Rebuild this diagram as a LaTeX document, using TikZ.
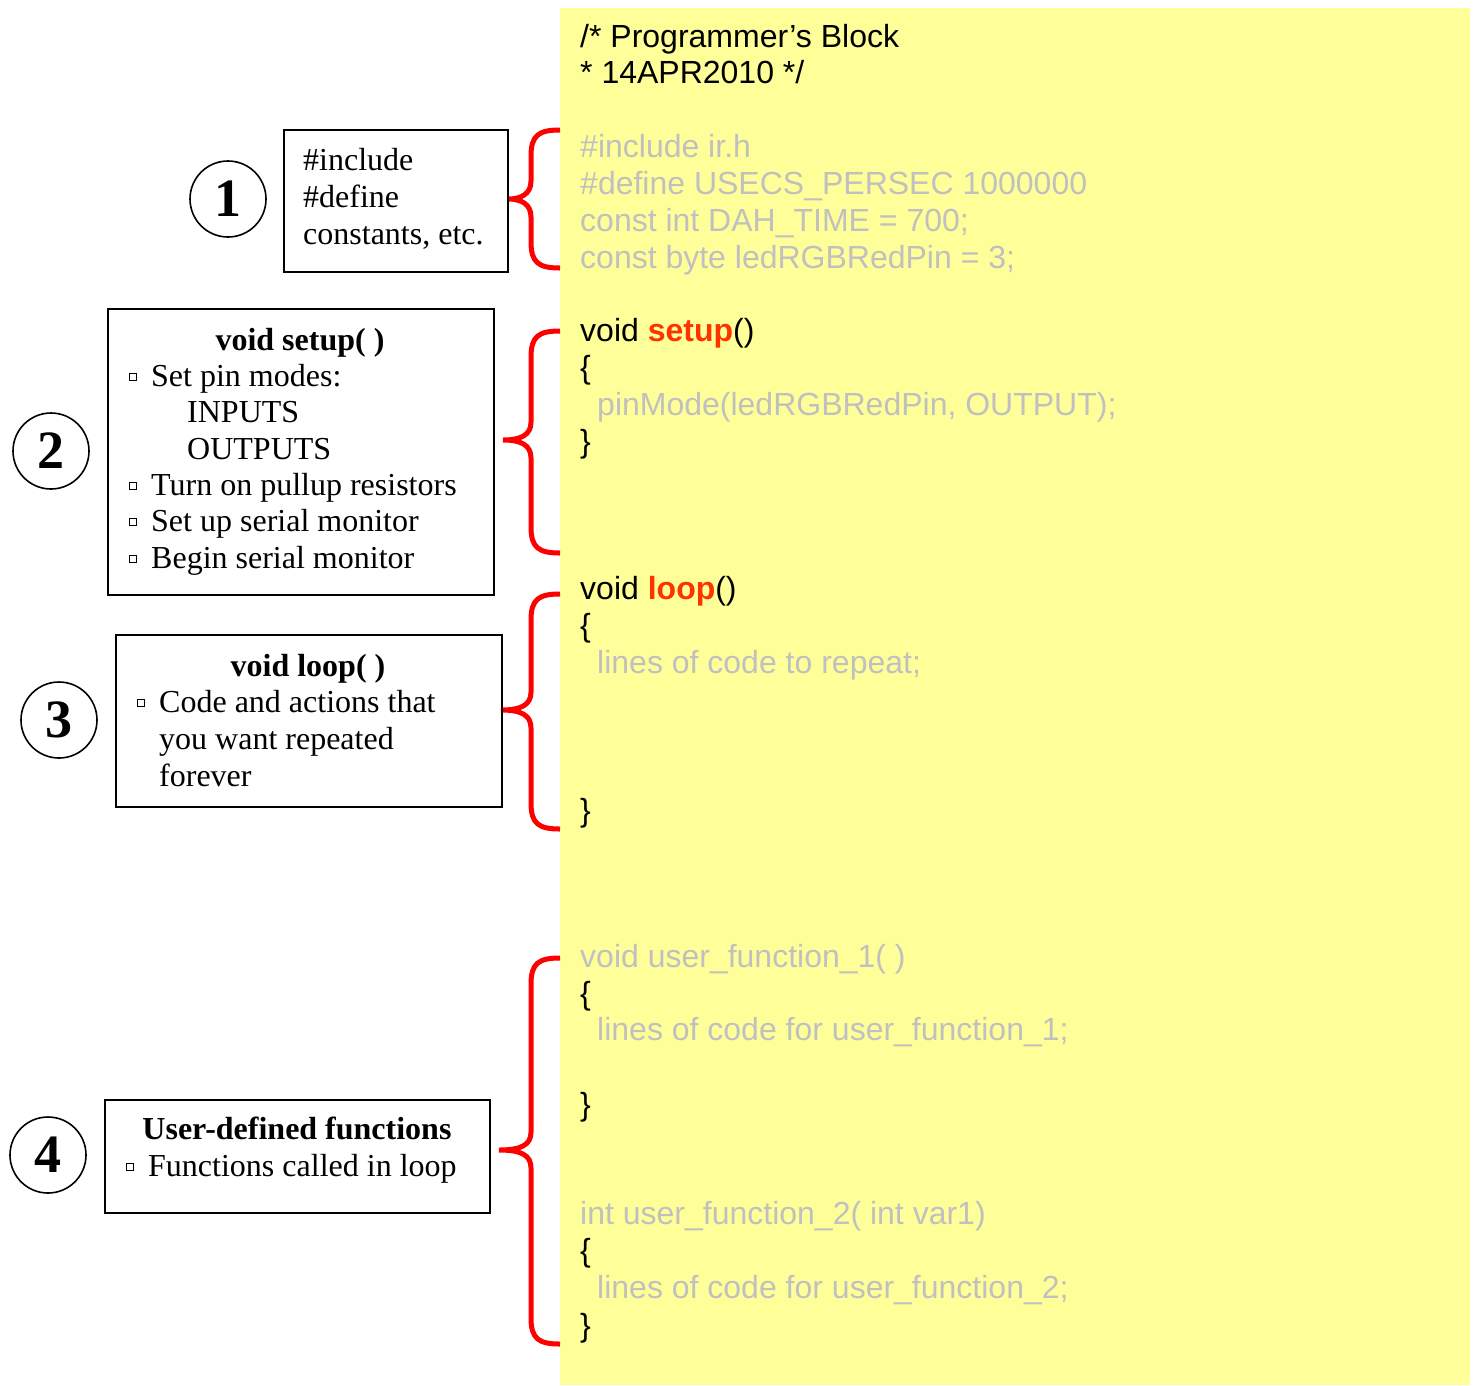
\documentclass[tikz,border=0pt]{standalone}
\usepackage{fontspec}
\setmainfont{Liberation Serif}
\newfontfamily\arialf{Liberation Sans}
\definecolor{panel}{RGB}{255,255,153}
\definecolor{codegray}{RGB}{192,192,192}
\definecolor{keyred}{RGB}{255,51,0}
\definecolor{bracered}{RGB}{255,0,0}
\newcommand\mybrace[4]{%
  \draw[brace] (560,#2) .. controls (539,#2) and (531,#2+5) .. (531,#2+26)
    -- (531,#3-18) .. controls (531,#3-5) and (521,#3) .. (#1,#3)
    .. controls (521,#3) and (531,#3+5) .. (531,#3+18)
    -- (531,#4-26) .. controls (531,#4-5) and (539,#4) .. (560,#4);}
\begin{document}
\begin{tikzpicture}[x=1pt,y=-1pt,
  box/.style={draw, line width=1.6pt, inner sep=0, anchor=north west},
  tx/.style={inner sep=0, anchor=base west, font=\fontsize{32}{37}\selectfont},
  ttl/.style={inner sep=0, anchor=base, font=\fontsize{32}{37}\selectfont\bfseries},
  code/.style={inner sep=0, anchor=base west, font=\arialf\fontsize{32}{37}\selectfont},
  dim/.style={code, text=codegray},
  bul/.style={draw, line width=1pt, minimum size=7pt, inner sep=0},
  num/.style={circle, draw, line width=1.6pt, minimum size=76pt, inner sep=0, font=\fontsize{54}{54}\selectfont\bfseries},
  brace/.style={draw=bracered, line width=5pt, line cap=butt}]
\useasboundingbox (0,0) rectangle (1474,1385);
\fill[panel] (560,8) rectangle (1470,1385);

% braces
\mybrace{508}{130}{199}{268}
\mybrace{503}{331}{440}{553}
\mybrace{501}{594}{710}{829}
\mybrace{499}{958}{1150}{1344}

% numbers
\node[num] (c1) at (228,199) {1};
\node[num] (c2) at (51,451) {2};
\node[num] (c3) at (59,720) {3};
\node[num] (c4) at (48,1155) {4};

% box 1
\node[box, minimum width=224pt, minimum height=142pt] (b1) at (283,129) {};
\node[tx] (b1l1) at (303,170) {\#include};
\node[tx] (b1l2) at (303,207) {\#define};
\node[tx] (b1l3) at (303,244) {constants, etc.};

% box 2
\node[box, minimum width=386pt, minimum height=286pt] (b2) at (107,308) {};
\node[ttl] (b2t) at (300,350) {void setup( )};
\node[bul] (b2q1) at (133,377) {};
\node[tx] (b2l1) at (151,386) {Set pin modes:};
\node[tx] (b2l2) at (187,422) {INPUTS};
\node[tx] (b2l3) at (187,459) {OUTPUTS};
\node[bul] (b2q4) at (133,486) {};
\node[tx] (b2l4) at (151,495) {Turn on pullup resistors};
\node[bul] (b2q5) at (133,522) {};
\node[tx] (b2l5) at (151,531) {Set up serial monitor};
\node[bul] (b2q6) at (133,559) {};
\node[tx] (b2l6) at (151,568) {Begin serial monitor};

% box 3
\node[box, minimum width=386pt, minimum height=172pt] (b3) at (115,634) {};
\node[ttl] (b3t) at (308,676) {void loop( )};
\node[bul] (b3q1) at (141,703) {};
\node[tx] (b3l1) at (159,712) {Code and actions that};
\node[tx] (b3l2) at (159,749) {you want repeated};
\node[tx] (b3l3) at (159,786) {forever};

% box 4
\node[box, minimum width=385pt, minimum height=113pt] (b4) at (104,1099) {};
\node[ttl] (b4t) at (297,1139) {User-defined functions};
\node[bul] (b4q1) at (130,1167) {};
\node[tx] (b4l1) at (148,1176) {Functions called in loop};

% code
\node[code] (k1) at (580,47) {/* Programmer’s Block};
\node[code] (k2) at (580,83) {* 14APR2010 */};
\node[dim] (k3) at (580,157) {\#include ir.h};
\node[dim] (k4) at (580,194) {\#define USECS\_PERSEC 1000000};
\node[dim] (k5) at (580,231) {const int DAH\_TIME = 700;};
\node[dim] (k6) at (580,268) {const byte ledRGBRedPin = 3;};

\node[code] (s1) at (580,341) {void \textcolor{keyred}{\bfseries setup}()};
\node[code] (s2) at (580,378) {\{};
\node[dim] (s3) at (597,415) {pinMode(ledRGBRedPin, OUTPUT);};
\node[code] (s4) at (580,452) {\}};

\node[code] (l1) at (580,599) {void \textcolor{keyred}{\bfseries loop}()};
\node[code] (l2) at (580,636) {\{};
\node[dim] (l3) at (597,673) {lines of code to repeat;};
\node[code] (l4) at (580,821) {\}};

\node[dim] (u1) at (580,967) {void user\_function\_1( )};
\node[code] (u2) at (580,1004) {\{};
\node[dim] (u3) at (597,1040) {lines of code for user\_function\_1;};
\node[code] (u4) at (580,1115) {\}};

\node[dim] (v1) at (580,1224) {int user\_function\_2( int var1)};
\node[code] (v2) at (580,1261) {\{};
\node[dim] (v3) at (597,1298) {lines of code for user\_function\_2;};
\node[code] (v4) at (580,1336) {\}};
\end{tikzpicture}
\end{document}
